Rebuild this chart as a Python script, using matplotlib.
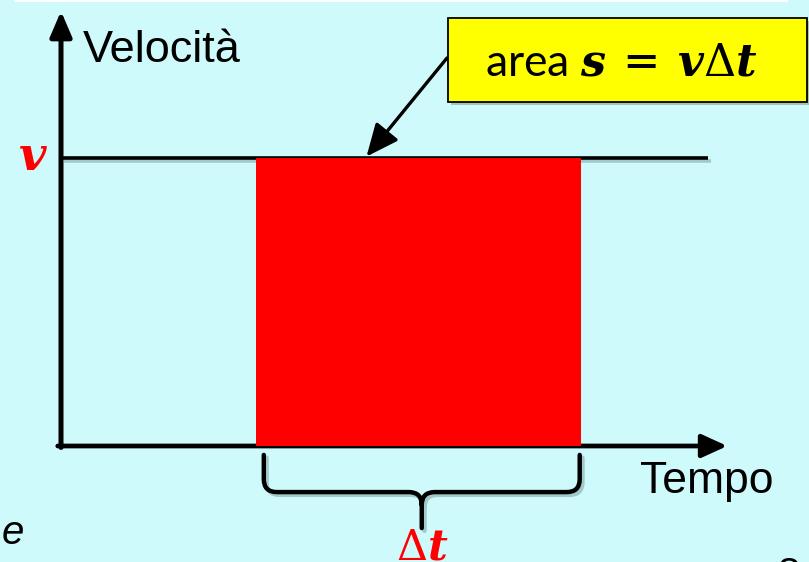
import numpy as np
import matplotlib.pyplot as plt
import matplotlib.patheffects as pe
from matplotlib.path import Path
from matplotlib.patches import PathPatch, Rectangle

# diagram values (time units, velocity units)
t_start = 3.0
t_end = 8.0
v = 1.0
t_axis_end = 10.25
v_axis_end = 1.5
t_line_end = 9.95

labels = ['Velocità', 'Tempo', r'$v$', r'$\Delta t$', r'area $s\,=\,v\Delta t$']

plt.rcParams['font.family'] = ['Liberation Sans', 'DejaVu Sans']
plt.rcParams['mathtext.fontset'] = 'custom'
plt.rcParams['mathtext.it'] = 'DejaVu Serif:italic:bold'
plt.rcParams['mathtext.rm'] = 'DejaVu Serif'
plt.rcParams['mathtext.bf'] = 'DejaVu Serif:bold'

bg = '#cffafb'
W, H = 809, 562
fig = plt.figure(figsize=(W / 100, H / 100), dpi=100, facecolor=bg)
ax = fig.add_axes([0, 0, 1, 1])
ax.set_facecolor(bg)
ax.axis('off')

# origin at pixel (61, 446); 65 px per time unit, 288 px per velocity unit
ax.set_xlim(-61 / 65, (W - 61) / 65)
ax.set_ylim(-(H - 446) / 288, 446 / 288)

# white strip along the top
fig.patches.append(Rectangle((14 / W, 1 - 2 / H), 774 / W, 2 / H, transform=fig.transFigure,
                             facecolor='white', edgecolor='none'))

shadow = [pe.SimpleLineShadow(offset=(2, -2), shadow_color='#507070', alpha=0.35), pe.Normal()]

# velocity line
ax.hlines(v, 0, t_line_end, color='black', lw=2.6, zorder=2, path_effects=shadow)

# axes arrows
ax.annotate('', xy=(0, v_axis_end + 0.01), xytext=(0, -0.005),
            arrowprops=dict(arrowstyle='-|>,head_length=0.7,head_width=0.3', lw=3.6, color='black',
                            shrinkA=0, shrinkB=0, mutation_scale=22), zorder=3)
ax.annotate('', xy=(t_axis_end, 0), xytext=(-0.05, 0),
            arrowprops=dict(arrowstyle='-|>,head_length=0.7,head_width=0.32', lw=3.4, color='black',
                            shrinkA=0, shrinkB=0, mutation_scale=22), zorder=3)

# area rectangle
ax.bar(t_start, v, width=t_end - t_start, align='edge', color='red', edgecolor='none', zorder=4)

# curly brace under the interval
x1 = t_start + 0.12
x2 = t_end - 0.02
xm = (x1 + x2) / 2
ytop, ymid, ybot = -0.031, -0.160, -0.285
rx, ry = 0.2, 0.045
verts = [(x1, ytop), (x1, ymid + ry), (x1, ymid), (x1 + rx, ymid),
         (xm - rx, ymid), (xm, ymid), (xm, ymid - ry), (xm, ybot),
         (xm, ymid - ry), (xm, ymid), (xm + rx, ymid),
         (x2 - rx, ymid), (x2, ymid), (x2, ymid + ry), (x2, ytop)]
codes = [Path.MOVETO, Path.LINETO, Path.CURVE3, Path.CURVE3,
         Path.LINETO, Path.CURVE3, Path.CURVE3, Path.LINETO,
         Path.MOVETO, Path.CURVE3, Path.CURVE3,
         Path.LINETO, Path.CURVE3, Path.CURVE3, Path.LINETO]
ax.add_patch(PathPatch(Path(verts, codes), facecolor='none', edgecolor='black', lw=3.2,
                       capstyle='round', joinstyle='round', path_effects=shadow, zorder=3))

# text labels
fig.text(83 / W, 1 - 50 / H, labels[0], fontsize=32.5, va='center', ha='left')
fig.text(707 / W, 1 - 481 / H, labels[1], fontsize=32, va='center', ha='center')
ax.text(-0.2, v, labels[2], color='red', fontsize=34, va='center', ha='right')
ax.text(xm, -0.355, labels[3], color='red', fontsize=31, va='center', ha='center')
fig.text(2 / W, 1 - 533 / H, 'e', fontsize=29, style='italic', va='center', ha='left')
fig.text(788 / W, 1 - 575 / H, '8', fontsize=29, va='center', ha='center')

# yellow callout box with arrow
fig.patches.append(Rectangle((448 / W, 1 - 102 / H), 359 / W, 84 / H, transform=fig.transFigure,
                             facecolor='#ffff00', edgecolor='black', lw=1.3,
                             path_effects=[pe.SimplePatchShadow(offset=(2, -2), alpha=0.3), pe.Normal()]))
fig.text(621 / W, 1 - 63 / H, labels[4], fontsize=32, family=['Lato', 'DejaVu Sans'],
         va='center', ha='center')
ax.annotate('', xy=(t_start + 1.7, v + 0.005), xytext=((447 - 61) / 65, (446 - 58) / 288),
            arrowprops=dict(arrowstyle='-|>,head_length=0.9,head_width=0.4', lw=2.4, color='black',
                            shrinkA=0, shrinkB=0, mutation_scale=22), zorder=5)

fig.savefig('out.png', dpi=100, facecolor=bg)
